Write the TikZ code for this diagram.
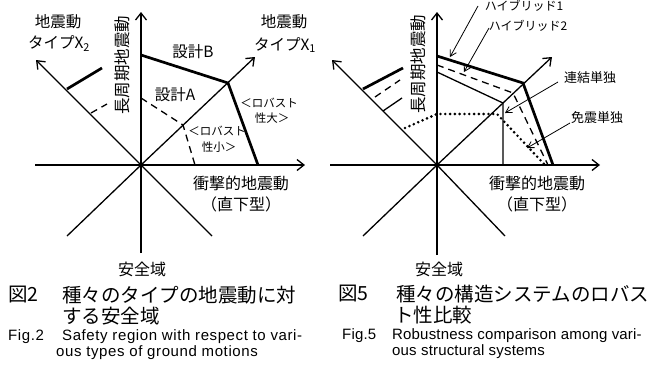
\documentclass[tikz,border=0pt]{standalone}
\usepackage{fontspec}
\setmainfont{Liberation Sans}
\newfontfamily\jp{Noto Sans CJK JP}
\newfontfamily\enfont[LetterSpace=4]{Liberation Sans}
\newfontfamily\enfontr[LetterSpace=1.2]{Liberation Sans}
\usetikzlibrary{arrows.meta}
\begin{document}
\begin{tikzpicture}[x=1pt,y=-1pt,
  axis/.style={line width=1.3pt},
  axarrow/.style={line width=1.3pt,-{Straight Barb[length=7pt,width=11pt,line width=1.3pt]}},
  thickline/.style={line width=2.7pt,line join=miter},
  dashline/.style={line width=1.3pt,dash pattern=on 7pt off 5pt},
  dotline/.style={line width=2.9pt,line cap=round,dash pattern=on 0pt off 4.8pt},
  thinline/.style={line width=1.3pt},
  leader/.style={line width=0.8pt,-{Straight Barb[length=6pt,width=7pt,line width=0.8pt]}},
  jl/.style={font=\jp\fontsize{15.5}{15.5}\selectfont, inner sep=0pt},
  jv/.style={font=\jp\fontsize{16.5}{16.5}\selectfont, inner sep=0pt, rotate=90},
  js/.style={font=\jp\fontsize{11.5}{11.5}\selectfont, inner sep=0pt},
  jm/.style={font=\jp\fontsize{16}{16}\selectfont, inner sep=0pt},
  jt/.style={font=\jp\fontsize{12}{12}\selectfont, inner sep=0pt},
  jn/.style={font=\jp\fontsize{13}{13}\selectfont, inner sep=0pt},
  captxt/.style={font=\jp\fontsize{19.5}{19.5}\selectfont, inner sep=0pt, anchor=west},
  entxt/.style={font=\enfont\fontsize{15}{15}\selectfont, inner sep=0pt, anchor=west},
  entxtr/.style={font=\enfontr\fontsize{15}{15}\selectfont, inner sep=0pt, anchor=west}
]
\useasboundingbox (0,0) rectangle (649,367);
\fill[white] (0,0) rectangle (649,367);

% ---------------- left diagram ----------------
\coordinate (O1) at (141,165);
\coordinate (H1w) at (35,165);  \coordinate (H1e) at (305,165);
\coordinate (V1s) at (141,253); \coordinate (V1n) at (141,12);
\coordinate (D1ne) at (255,57); \coordinate (D1sw) at (67,236);
\coordinate (D1nw) at (36,60);  \coordinate (D1se) at (212,236);
\draw[axarrow] (H1w) -- (H1e);
\draw[axarrow] (V1s) -- (V1n);
\draw[axis] (D1sw) -- (O1);
\draw[axarrow] (O1) -- (D1ne);
\draw[axis] (D1se) -- (O1);
\draw[axarrow] (O1) -- (D1nw);

\coordinate (B1) at (141,55); \coordinate (B2) at (228,83); \coordinate (B3) at (258,165);
\draw[thickline] (B1) -- (B2) -- (B3);
\coordinate (A1) at (141,98); \coordinate (A2) at (183,125); \coordinate (A3) at (195,165);
\draw[dashline] (A1) -- (A2) -- (A3);
\coordinate (XB1) at (67,89); \coordinate (XB2) at (102,68);
\draw[thickline] (XB1) -- (XB2);
\coordinate (XA1) at (91,113); \coordinate (XA2) at (107,104);
\draw[dashline] (XA1) -- (XA2);

\node[jl] (l1a) at (58,22) {地震動};
\node[jl] (l1b) at (59,44) {タイプX\textsubscript{2}};
\node[jl] (r1a) at (284,22) {地震動};
\node[jl] (r1b) at (285,45) {タイプX\textsubscript{1}};
\node[jv] (v1) at (122,65) {長周期地震動};
\node[jl] (dB) at (193,52) {設計B};
\node[jl] (dA) at (175,95) {設計A};
\node[js] (rb1) at (269,103) {＜ロバスト};
\node[js] (rb2) at (272,118) {性大＞};
\node[js] (rs1) at (217,131) {＜ロバスト};
\node[js] (rs2) at (219,147) {性小＞};
\node[jm] (h1) at (241,183) {衝撃的地震動};
\node[jm] (h1b) at (241,204) {（直下型）};
\node[jm] (s1) at (142,269) {安全域};

% ---------------- right diagram ----------------
\coordinate (O2) at (437,165);
\coordinate (H2w) at (330,165);  \coordinate (H2e) at (600,165);
\coordinate (V2s) at (437,255);  \coordinate (V2n) at (437,12);
\coordinate (D2ne) at (552,57);  \coordinate (D2sw) at (363,236);
\coordinate (D2nw) at (332,60);  \coordinate (D2se) at (505,236);
\draw[axarrow] (H2w) -- (H2e);
\draw[axarrow] (V2s) -- (V2n);
\draw[axis] (D2sw) -- (O2);
\draw[axarrow] (O2) -- (D2ne);
\draw[axis] (D2se) -- (O2);
\draw[axarrow] (O2) -- (D2nw);

% hybrid 1
\coordinate (P1) at (437,56); \coordinate (P2) at (523,83); \coordinate (P3) at (553,165);
\draw[thickline] (P1) -- (P2) -- (P3);
% hybrid 2
\coordinate (Q1) at (437,65); \coordinate (Q2) at (513,93); \coordinate (Q3) at (548,165);
\draw[dashline] (Q1) -- (Q2) -- (Q3);
% linked only
\coordinate (R1) at (437,72); \coordinate (R2) at (503,103); \coordinate (R3) at (503,165);
\draw[thinline] (R1) -- (R2) -- (R3);
% isolation only
\coordinate (S0) at (405,128); \coordinate (S1) at (437,114);
\coordinate (S2) at (497,114); \coordinate (S3) at (545,165);
\draw[dotline] (S0) -- (S1) -- (S2) -- (S3);
% X2 side marks
\coordinate (T1) at (363,89);  \coordinate (T2) at (403,68);
\draw[thickline] (T1) -- (T2);
\coordinate (U1) at (375,97);  \coordinate (U2) at (400,80);
\draw[dashline] (U1) -- (U2);
\coordinate (W1) at (383,111); \coordinate (W2) at (402,98);
\draw[thinline] (W1) -- (W2);

\node[jv] (v2) at (418,64) {長周期地震動};
\node[jm] (h2) at (537,183) {衝撃的地震動};
\node[jm] (h2b) at (537,204) {（直下型）};
\node[jm] (s2) at (439,269) {安全域};

\node[jt] (hy1) at (524,6) {ハイブリッド1};
\node[jt] (hy2) at (528,26) {ハイブリッド2};
\node[jn] (rk) at (590,78) {連結単独};
\node[jn] (mk) at (597,118) {免震単独};
\coordinate (hy1s) at (478,6);   \coordinate (hy1t) at (450,57);
\coordinate (hy2s) at (489,28);  \coordinate (hy2t) at (464,72);
\coordinate (rks) at (558,82);   \coordinate (rkt) at (505,113);
\coordinate (mks) at (570,123);  \coordinate (mkt) at (527,148);
\draw[leader] (hy1s) -- (hy1t);
\draw[leader] (hy2s) -- (hy2t);
\draw[leader] (rks) -- (rkt);
\draw[leader] (mks) -- (mkt);

% ---------------- captions ----------------
\node[captxt] (c1a) at (8,295) {図2};
\node[captxt] (c1b) at (62,295) {種々のタイプの地震動に対};
\node[captxt] (c1c) at (62,316) {する安全域};
\node[entxt] (e1a) at (8,337) {Fig.2};
\node[entxt] (e1b) at (62,337) {Safety region with respect to vari-};
\node[entxt] (e1c) at (56,353) {ous types of ground motions};

\node[captxt] (c2a) at (338,294) {図5};
\node[captxt] (c2b) at (396,294) {種々の構造システムのロバス};
\node[captxt] (c2c) at (394,315) {ト性比較};
\node[entxtr] (e2a) at (342,336) {Fig.5};
\node[entxtr] (e2b) at (392,336) {Robustness comparison among vari-};
\node[entxtr] (e2c) at (392,352) {ous structural systems};
\end{tikzpicture}
\end{document}
